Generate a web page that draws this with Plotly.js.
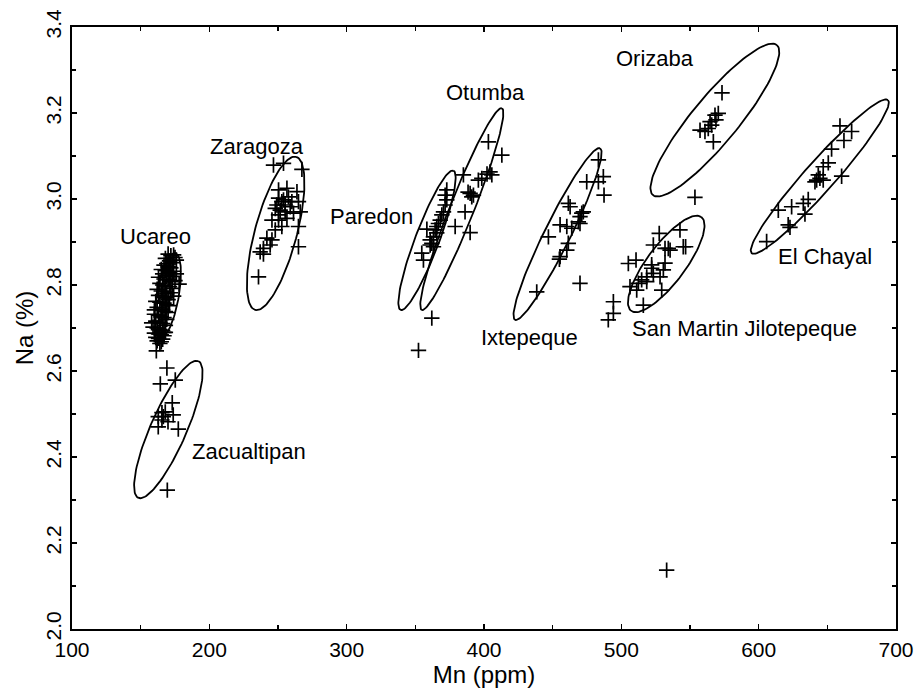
<!DOCTYPE html>
<html>
<head>
<meta charset="utf-8">
<script src="https://cdn.plot.ly/plotly-3.0.1.min.js"></script>
<style>html,body{margin:0;padding:0;background:#fff;}#chart{width:917px;height:690px;}</style>
</head>
<body>
<div id="chart"></div>
<script>
// ---- Data (Mn ppm, Na %) ----
const ucareoX = [170,172,174,168,175,171,169,173,176,167, 170,172,165,168,171,174,166,169,173,163,
                 167,170,172,175,164,166,168,171,173,162, 165,167,169,172,163,166,168,170,174,161,
                 164,167,169,171,162,165,166,168,170,160, 163,165,167,169,161,164,166,168,159,162,
                 164,166,168,160,163,165,167,161,163,166, 162,165,164,167,176,178,160,158];
const ucareoY = [2.872,2.868,2.870,2.862,2.864,2.856,2.850,2.852,2.858,2.846, 2.842,2.840,2.836,2.834,2.830,2.832,2.826,2.822,2.820,2.818,
                 2.814,2.812,2.808,2.810,2.804,2.800,2.798,2.796,2.792,2.790, 2.786,2.784,2.780,2.782,2.776,2.772,2.770,2.766,2.774,2.762,
                 2.760,2.758,2.754,2.752,2.748,2.744,2.742,2.738,2.736,2.732, 2.730,2.726,2.724,2.720,2.716,2.712,2.710,2.706,2.702,2.700,
                 2.696,2.694,2.690,2.688,2.686,2.684,2.682,2.678,2.676,2.674, 2.670,2.668,2.664,2.690,2.826,2.802,2.742,2.712];

const zacualtipanX = [161.4,169.1,164.3,175.2,173.0,165.5,166.5,162.8,173.7,169.9,162.8,177.4,165.5,167.9,169.4];
const zacualtipanY = [2.647,2.607,2.570,2.579,2.526,2.503,2.494,2.494,2.498,2.482,2.470,2.465,2.486,2.505,2.323];

const zaragozaX = [246.7,254.0,267.4,250.4,256.5,263.8,250.4,252.8,255.2,258.9,251.6,248.0,264.9,266.2,261.3,245.6,250.4,256.5,
                   252.8,264.9,248.0,241.9,245.6,244.3,239.4,237.0,239.4,264.9,235.8,254.0,257.6,249.2,260.1,255.2,250.4];
const zaragozaY = [3.079,3.083,3.069,3.021,3.025,3.017,3.002,2.994,2.986,2.982,2.974,2.978,2.994,2.970,2.967,2.951,2.951,2.955,
                   2.936,2.936,2.928,2.909,2.905,2.893,2.885,2.877,2.872,2.889,2.819,2.998,3.005,2.986,2.994,2.970,2.963];

const paredonX = [372.9,371.7,372.9,371.7,370.5,369.3,368.1,366.8,365.6,364.4,358.4,363.2,360.8,362.0,363.2,360.8,354.7,355.9,365.6];
const paredonY = [3.021,3.009,2.998,2.986,2.970,2.963,2.951,2.943,2.936,2.928,2.930,2.912,2.905,2.897,2.889,2.893,2.874,2.858,2.921];

const otumbaX = [403.2,413.0,404.4,405.7,402.2,398.4,395.9,385.0,389.9,392.3,391.1,388.4,386.2,379.0,389.9,362.0,352.3];
const otumbaY = [3.133,3.102,3.063,3.056,3.058,3.048,3.044,3.056,3.013,3.009,3.005,3.016,2.970,2.936,2.922,2.723,2.648];

const ixtepequeX = [483.3,486.9,483.3,474.8,487.4,461.4,462.7,471.2,472.3,469.9,468.7,469.9,455.4,460.3,463.9,446.9,461.4,460.3,455.4,454.9,469.9,438.4];
const ixtepequeY = [3.091,3.052,3.040,3.040,3.009,2.990,2.982,2.967,2.970,2.959,2.947,2.943,2.940,2.936,2.932,2.912,2.897,2.881,2.866,2.860,2.804,2.784];

const orizabaX = [557.3,560.9,568.2,570.6,565.8,567.0,564.6,563.3,573.3,568.9,553.6];
const orizabaY = [3.160,3.157,3.195,3.199,3.172,3.133,3.180,3.164,3.247,3.184,3.004];

const sanMartinX = [542.7,527.6,545.1,523.3,531.8,535.5,505.1,510.7,522.1,523.3,530.6,528.2,514.8,518.5,512.4,506.3,518.5,511.2,529.4,516.0,
                    494.2,494.2,490.5,534.2,546.8,531.8,522.1,533.0];
const sanMartinY = [2.928,2.920,2.889,2.893,2.885,2.881,2.850,2.858,2.839,2.827,2.835,2.819,2.812,2.808,2.804,2.796,2.819,2.788,2.788,2.753,
                    2.761,2.734,2.719,2.885,2.889,2.851,2.847,2.137];

const elChayalX = [659.2,667.7,662.1,653.1,650.7,647.0,643.4,644.6,642.2,641.0,647.0,660.4,636.1,632.5,633.7,624.0,614.3,621.5,622.8,605.8];
const elChayalY = [3.170,3.157,3.136,3.116,3.084,3.075,3.056,3.048,3.044,3.040,3.044,3.053,2.999,2.990,2.965,2.982,2.974,2.940,2.934,2.901];

// ---- Group ellipses: ends of the long axis (data units) ----
const ellipseNames = ["Ucareo","Zacualtipan","Zaragoza","Paredon","Otumba","Ixtepeque","Orizaba","San Martin Jilotepeque","El Chayal"];
const ellipseTopX    = [175.2, 192.0, 263.2, 377.7, 413.0, 484.5, 613.2, 558.3, 694.1];
const ellipseTopY    = [2.874, 2.623, 3.098, 3.066, 3.211, 3.118, 3.358, 2.958, 3.230];
const ellipseBottomX = [164.3, 148.3, 233.4, 339.3, 354.7, 422.6, 523.0, 507.1, 594.9];
const ellipseBottomY = [2.677, 2.305, 2.742, 2.742, 2.742, 2.719, 3.009, 2.740, 2.874];
const ellipseHalfWidthPx = [11, 18, 21, 12, 12, 13, 23, 19, 15];

// ---- Group labels ----
const labelText = ["Ucareo","Zacualtipan","Zaragoza","Paredon","Otumba","Ixtepeque","Orizaba","San Martin Jilotepeque","El Chayal"];
const labelX = [160.7, 229.0, 234.9, 317.8, 400.8, 432.8, 524.5, 590.0, 648.2];
const labelY = [2.912, 2.412, 3.123, 2.960, 3.247, 2.679, 3.326, 2.700, 2.867];

const xRange = [100, 700];
const yRange = [2.0, 3.4];

// ---- Build ----
const W = 917, H = 690;
const M = {l: 72, r: 21, t: 27, b: 61};
const kx = (W - M.l - M.r) / (xRange[1] - xRange[0]);
const ky = (H - M.t - M.b) / (yRange[1] - yRange[0]);

function ellipse(x1, y1, x2, y2, bPx) {
  const cx = (x1 + x2) / 2, cy = (y1 + y2) / 2;
  const ax = (x1 - cx) * kx, ay = (y1 - cy) * ky;
  const L = Math.hypot(ax, ay);
  const mx = -ay / L * bPx, my = ax / L * bPx;
  const xs = [], ys = [];
  for (let i = 0; i <= 120; i++) {
    const t = i / 120 * 2 * Math.PI;
    xs.push(cx + (ax * Math.cos(t) + mx * Math.sin(t)) / kx);
    ys.push(cy + (ay * Math.cos(t) + my * Math.sin(t)) / ky);
  }
  return {xs, ys};
}

const font = "Liberation Sans, Arial, Helvetica, sans-serif";
const traces = [];
ellipseNames.forEach((n, i) => {
  const e = ellipse(ellipseTopX[i], ellipseTopY[i], ellipseBottomX[i], ellipseBottomY[i], ellipseHalfWidthPx[i]);
  traces.push({x: e.xs, y: e.ys, mode: 'lines', type: 'scatter', name: n + ' ellipse',
               line: {color: '#000', width: 1.8}, hoverinfo: 'skip', showlegend: false});
});
const groups = [
  ["Ucareo", ucareoX, ucareoY], ["Zacualtipan", zacualtipanX, zacualtipanY], ["Zaragoza", zaragozaX, zaragozaY],
  ["Paredon", paredonX, paredonY], ["Otumba", otumbaX, otumbaY], ["Ixtepeque", ixtepequeX, ixtepequeY],
  ["Orizaba", orizabaX, orizabaY], ["San Martin Jilotepeque", sanMartinX, sanMartinY], ["El Chayal", elChayalX, elChayalY]
];
groups.forEach(g => {
  traces.push({x: g[1], y: g[2], mode: 'markers', type: 'scatter', name: g[0], showlegend: false,
               marker: {symbol: 'cross-thin', size: 11, color: '#000', line: {color: '#000', width: 1.7}}});
});

const annotations = labelText.map((t, i) => ({
  x: labelX[i], y: labelY[i], xref: 'x', yref: 'y', text: t, showarrow: false,
  xanchor: 'center', yanchor: 'middle', font: {family: font, size: 22, color: '#000'}
}));

const axisCommon = {
  showgrid: false, zeroline: false, showline: true, linecolor: '#000', linewidth: 2.2,
  mirror: 'ticks', ticks: 'inside', ticklen: 5, tickwidth: 1.5, tickcolor: '#000',
  tickfont: {family: font, size: 21, color: '#000'}
};

const layout = {
  width: W, height: H, margin: M, paper_bgcolor: '#fff', plot_bgcolor: '#fff',
  showlegend: false,
  xaxis: Object.assign({}, axisCommon, {
    range: xRange, dtick: 100, tick0: 100,
    minor: {dtick: 50, ticks: 'inside', ticklen: 4, tickwidth: 1.2, tickcolor: '#000', showgrid: false},
    ticklabelstandoff: 1,
    title: {text: 'Mn (ppm)', font: {family: font, size: 24, color: '#000'}, standoff: 4}
  }),
  yaxis: Object.assign({}, axisCommon, {
    range: yRange, dtick: 0.2, tick0: 2.0, tickformat: '.1f', tickangle: -90,
    minor: {dtick: 0.1, ticks: 'inside', ticklen: 4, tickwidth: 1.2, tickcolor: '#000', showgrid: false},
    ticklabelstandoff: 0,
    title: {text: 'Na (%)', font: {family: font, size: 24, color: '#000'}, standoff: 2}
  }),
  annotations: annotations
};

Plotly.newPlot('chart', traces, layout, {displayModeBar: false, staticPlot: true});
</script>
</body>
</html>
